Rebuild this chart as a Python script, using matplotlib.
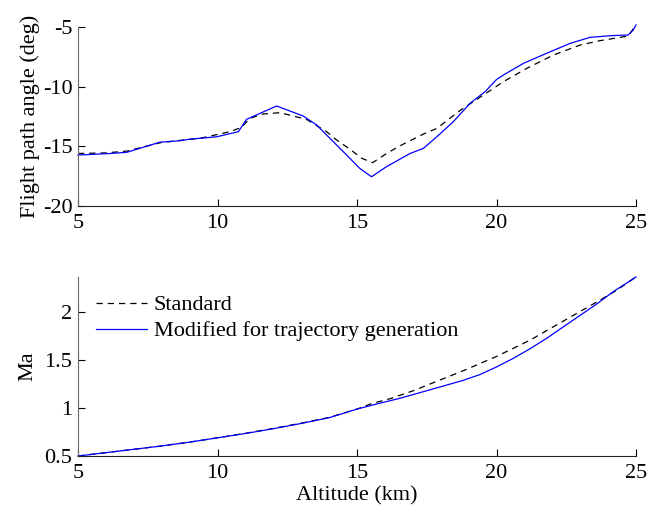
import matplotlib
matplotlib.use('Agg')
import matplotlib.pyplot as plt

# flight path angle (deg) vs altitude (km), standard trajectory
alt_std = [5, 6.0, 6.75, 7.94, 8.66, 9.37, 10.45, 10.86, 11.16, 11.64, 12.24, 12.72, 13.19,
           13.91, 14.27, 14.75, 15.17, 15.56, 16.06, 16.48, 16.9, 17.38, 17.86, 18.28,
           18.69, 19.17, 20.25, 21.09, 22.04, 23.0, 23.7, 24.43, 24.72, 25]
gamma_std = [-15.6, -15.55, -15.4, -14.7, -14.5, -14.33, -13.77, -13.41, -12.65, -12.29, -12.18,
             -12.46, -12.74, -13.77, -14.47, -15.25, -16.0, -16.37, -15.6, -15.03, -14.53,
             -13.97, -13.5, -12.74, -12.0, -11.26, -9.58, -8.46, -7.35, -6.51, -6.15, -5.87,
             -5.75, -4.83]

# modified for trajectory generation
alt_mod = [5, 6.15, 6.75, 7.94, 8.66, 9.01, 9.97, 10.75, 11.04, 11.52, 12.12, 13.07, 13.55,
           14.03, 14.51, 15.1, 15.52, 16.06, 16.9, 17.38, 17.86, 18.45, 19.05, 19.6,
           20.0, 20.3, 20.97, 21.8, 22.64, 23.35, 24.07, 24.72, 24.9, 25]
gamma_mod = [-15.73, -15.6, -15.5, -14.65, -14.53, -14.4, -14.2, -13.77, -12.74, -12.24, -11.62,
             -12.46, -13.2, -14.33, -15.45, -16.85, -17.55, -16.7, -15.6, -15.17, -14.2,
             -12.94, -11.4, -10.4, -9.4, -8.95, -8.04, -7.2, -6.37, -5.87, -5.73, -5.67,
             -5.25, -4.83]

# Mach number vs altitude
alt_ma_std = [5, 6, 7, 8, 9, 10, 11, 12, 13, 14, 15, 15.5, 16.2, 17.0, 17.6, 18.8, 20.0,
              21.2, 22.4, 23.6, 24.3, 25]
ma_std = [0.5, 0.535, 0.57, 0.605, 0.645, 0.69, 0.737, 0.788, 0.843, 0.903, 0.99, 1.045,
          1.10, 1.18, 1.25, 1.39, 1.54, 1.71, 1.91, 2.11, 2.23, 2.37]
alt_ma_mod = [5, 6, 7, 8, 9, 10, 11, 12, 13, 14, 15, 15.8, 16.5, 17.6, 18.2, 18.8, 19.4,
              20.0, 20.6, 21.2, 21.8, 22.4, 23.0, 23.6, 24.2, 25]
ma_mod = [0.5, 0.535, 0.57, 0.605, 0.645, 0.69, 0.735, 0.785, 0.84, 0.9, 0.99, 1.05, 1.1,
          1.19, 1.24, 1.29, 1.35, 1.43, 1.52, 1.62, 1.73, 1.85, 1.97, 2.09, 2.22, 2.37]

plt.rcParams['font.family'] = ['Liberation Serif', 'DejaVu Serif']
plt.rcParams['font.size'] = 16
plt.rcParams['axes.unicode_minus'] = False

fig = plt.figure(figsize=(6.62, 5.11), dpi=100)
W, H = 662, 511
ax1 = fig.add_axes([78 / W, 1 - 206 / H, (636 - 78) / W, (206 - 27) / H])
ax2 = fig.add_axes([78 / W, 1 - 456 / H, (636 - 78) / W, (456 - 277) / H])

ax1.plot(alt_std, gamma_std, 'k--', lw=0.9, dashes=(5, 4))
ax1.plot(alt_mod, gamma_mod, color='#0000ff', lw=0.9)
ax1.set_xlim(5, 25)
ax1.set_ylim(-20, -5)
ax1.set_yticks([-20, -15, -10, -5])
ax1.set_ylabel('Flight path angle (deg)', labelpad=2)

ax2.plot(alt_ma_std, ma_std, 'k--', lw=0.9, dashes=(5, 4), label='Standard')
ax2.plot(alt_ma_mod, ma_mod, color='#0000ff', lw=0.9,
         label='Modified for trajectory generation')
ax2.set_xlim(5, 25)
ax2.set_ylim(0.5, 2.37)
ax2.set_yticks([0.5, 1, 1.5, 2])
ax2.set_yticklabels(['0.5', '1', '1.5', '2'])
ax2.set_ylabel('Ma', labelpad=5)
ax2.set_xlabel('Altitude (km)', labelpad=2)
ax2.legend(loc='upper left', frameon=False, handlelength=2.3, borderaxespad=0.6,
           handletextpad=0.3, labelspacing=0.25, borderpad=0.2)

for ax in (ax1, ax2):
    ax.set_xticks([5, 10, 15, 20, 25])
    ax.spines['top'].set_visible(False)
    ax.spines['right'].set_visible(False)
    ax.spines['left'].set_color('#666666')
    ax.spines['bottom'].set_color('#222222')
    ax.tick_params(direction='in', length=5, width=0.8)
    ax.tick_params(axis='x', pad=6)
    ax.tick_params(axis='y', pad=4)
    for line in ax.get_lines():
        line.set_clip_on(False)

fig.savefig('out.png', dpi=100)
